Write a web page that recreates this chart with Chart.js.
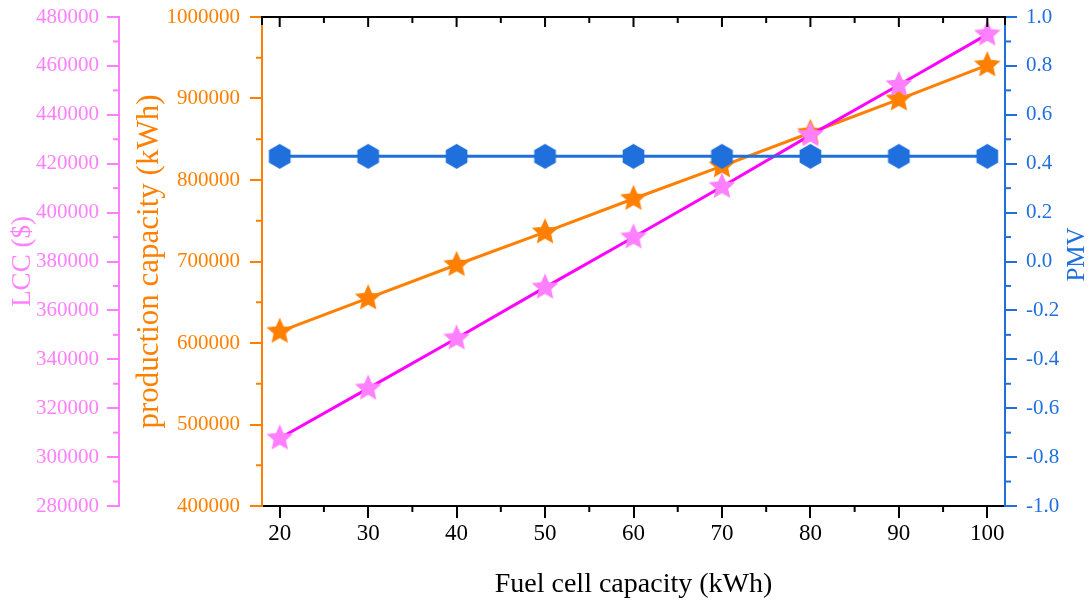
<!DOCTYPE html>
<html>
<head>
<title>Fuel cell capacity</title>
<script src="https://cdn.jsdelivr.net/npm/chart.js"></script>
<style>
body{margin:0;background:#fff;}
#wrap{width:1090px;height:602px;position:relative;}
</style>
</head>
<body>
<div id="wrap"><canvas id="chart"></canvas></div>
<script>
// fuel cell sizes (kWh) and the three results
const capacity = [20, 30, 40, 50, 60, 70, 80, 90, 100];
const production = [614000, 655000, 696000, 736000, 777000, 817000, 858000, 899000, 941000];
const lcc = [307700, 328100, 348600, 369400, 389900, 410600, 431700, 452200, 472900];
const pmv = [0.43, 0.43, 0.43, 0.43, 0.43, 0.43, 0.43, 0.43, 0.43];

const xTicks = [20, 30, 40, 50, 60, 70, 80, 90, 100];
const prodTicks = [400000, 500000, 600000, 700000, 800000, 900000, 1000000];
const lccTicks = [280000, 300000, 320000, 340000, 360000, 380000, 400000, 420000, 440000, 460000, 480000];
const pmvTicks = [-1.0, -0.8, -0.6, -0.4, -0.2, 0.0, 0.2, 0.4, 0.6, 0.8, 1.0];

const ORANGE = '#ff8000', PINK = '#ff80ff', MAGENTA = '#ff00ff', BLUE = '#1f6fdc';
const SERIF = '"Liberation Serif", "Times New Roman", serif';
const TL = 12, MINOR = 6;

function starImage(color, R, r) {
    const c = document.createElement('canvas');
    c.width = c.height = Math.ceil(2 * R + 2);
    const g = c.getContext('2d');
    g.translate(c.width / 2, c.height / 2);
    g.beginPath();
    for (let i = 0; i < 10; i++) {
        const rad = i % 2 ? r : R;
        const a = -Math.PI / 2 + i * Math.PI / 5;
        g.lineTo(rad * Math.cos(a), rad * Math.sin(a));
    }
    g.closePath();
    g.fillStyle = color;
    g.fill();
    return c;
}

function hexImage(color, R) {
    const c = document.createElement('canvas');
    c.width = c.height = Math.ceil(2 * R + 2);
    const g = c.getContext('2d');
    g.translate(c.width / 2, c.height / 2);
    g.beginPath();
    for (let i = 0; i < 6; i++) {
        const a = -Math.PI / 2 + i * Math.PI / 3;
        g.lineTo(R * Math.cos(a), R * Math.sin(a));
    }
    g.closePath();
    g.fillStyle = color;
    g.fill();
    return c;
}

const pts = (ys) => capacity.map((x, i) => ({x: x, y: ys[i]}));
const fixTicks = (list) => (s) => { s.ticks = list.map(v => ({value: v})); };
// fixed axis width, no extra room reserved for the end labels
const fitY = (w) => (s) => { s.width = w; s.paddingTop = 0; s.paddingBottom = 0; };

// top frame, minor ticks and the right-hand title
const frame = {
    id: 'frame',
    afterDraw(chart) {
        const {ctx, chartArea: a, scales} = chart;
        ctx.save();
        ctx.lineWidth = 2;
        ctx.lineCap = 'butt';

        const mids = (list) => list.slice(1).map((v, i) => (v + list[i]) / 2);
        const seg = (color, x1, y1, x2, y2) => {
            ctx.strokeStyle = color;
            ctx.beginPath(); ctx.moveTo(x1, y1); ctx.lineTo(x2, y2); ctx.stroke();
        };

        // top border with inward ticks
        seg('#000', a.left - 1, a.top, a.right + 1, a.top);
        seg('#000', a.left, a.top, a.left, a.top + 8);
        seg('#000', a.right, a.top, a.right, a.top + 8);
        xTicks.forEach(v => { const x = scales.x.getPixelForValue(v); seg('#000', x, a.top, x, a.top + 10); });
        mids(xTicks).forEach(v => { const x = scales.x.getPixelForValue(v); seg('#000', x, a.top, x, a.top + MINOR); });

        // minor ticks on bottom axis
        mids(xTicks).forEach(v => { const x = scales.x.getPixelForValue(v); seg('#000', x, a.bottom, x, a.bottom + MINOR); });

        // minor ticks on the value axes
        const lx = scales.yL.right;
        mids(lccTicks).forEach(v => { const y = scales.yL.getPixelForValue(v); seg(PINK, lx, y, lx - MINOR, y); });
        mids(prodTicks).forEach(v => { const y = scales.y.getPixelForValue(v); seg(ORANGE, a.left, y, a.left - MINOR, y); });
        mids(pmvTicks).forEach(v => { const y = scales.yP.getPixelForValue(v); seg(BLUE, a.right, y, a.right + MINOR, y); });

        // PMV title reads bottom to top
        ctx.translate(1077, (a.top + a.bottom) / 2 - 7);
        ctx.rotate(-Math.PI / 2);
        ctx.font = '25px ' + SERIF;
        ctx.fillStyle = BLUE;
        ctx.textAlign = 'center';
        ctx.textBaseline = 'middle';
        ctx.fillText('PMV', 0, 0);
        ctx.restore();
    }
};

const tickFont = (size) => ({family: SERIF, size: size});

new Chart(document.getElementById('chart'), {
    type: 'line',
    data: {
        datasets: [
            {
                label: 'PMV', data: pts(pmv), yAxisID: 'yP',
                borderColor: BLUE, borderWidth: 3,
                pointStyle: hexImage(BLUE, 12.5), pointRadius: 12
            },
            {
                label: 'LCC', data: pts(lcc), yAxisID: 'yL',
                borderColor: MAGENTA, borderWidth: 3,
                pointStyle: starImage(PINK, 14, 6.5), pointRadius: 12
            },
            {
                label: 'production capacity', data: pts(production), yAxisID: 'y',
                borderColor: ORANGE, borderWidth: 3,
                pointStyle: starImage(ORANGE, 14, 6.5), pointRadius: 12
            }
        ]
    },
    options: {
        responsive: true,
        maintainAspectRatio: false,
        animation: false,
        devicePixelRatio: 1,
        layout: {padding: {top: 17, left: 0, right: 0, bottom: 0}},
        plugins: {legend: {display: false}, tooltip: {enabled: false}},
        elements: {line: {tension: 0}},
        scales: {
            x: {
                type: 'linear', position: 'bottom', min: 18, max: 102,
                afterBuildTicks: fixTicks(xTicks),
                afterFit: (s) => { s.height = 96; },
                border: {color: '#000', width: 2},
                grid: {drawOnChartArea: false, tickLength: TL, tickColor: '#000', lineWidth: 2},
                ticks: {color: '#000', font: tickFont(23), padding: 2, maxRotation: 0},
                title: {display: true, text: 'Fuel cell capacity (kWh)', color: '#000',
                        font: {family: SERIF, size: 28, lineHeight: 1}, padding: {bottom: 3}}
            },
            y: {
                position: 'left', weight: 0, min: 400000, max: 1000000,
                afterBuildTicks: fixTicks(prodTicks),
                afterFit: fitY(143),
                border: {color: ORANGE, width: 2},
                grid: {drawOnChartArea: false, tickLength: TL, tickColor: ORANGE, lineWidth: 2},
                ticks: {color: ORANGE, font: tickFont(21), padding: 10, callback: v => String(v)},
                title: {display: true, text: 'production capacity (kWh)', color: ORANGE,
                        font: {family: SERIF, size: 31, lineHeight: 1}, padding: {top: 15}}
            },
            yL: {
                position: 'left', weight: 1, min: 280000, max: 480000,
                afterBuildTicks: fixTicks(lccTicks),
                afterFit: fitY(119),
                border: {color: PINK, width: 2},
                grid: {drawOnChartArea: false, tickLength: TL, tickColor: PINK, lineWidth: 2},
                ticks: {color: PINK, font: tickFont(21), padding: 8, callback: v => String(v)},
                title: {display: true, text: 'LCC ($)', color: PINK,
                        font: {family: SERIF, size: 27, lineHeight: 1}, padding: {top: 9}}
            },
            yP: {
                position: 'right', min: -1, max: 1,
                afterBuildTicks: fixTicks(pmvTicks),
                afterFit: fitY(85),
                border: {color: BLUE, width: 2},
                grid: {drawOnChartArea: false, tickLength: TL, tickColor: BLUE, lineWidth: 2},
                ticks: {color: BLUE, font: tickFont(21), padding: 9,
                        callback: v => (Math.abs(v) < 1e-9 ? 0 : v).toFixed(1)}
            }
        }
    },
    plugins: [frame]
});
</script>
</body>
</html>
